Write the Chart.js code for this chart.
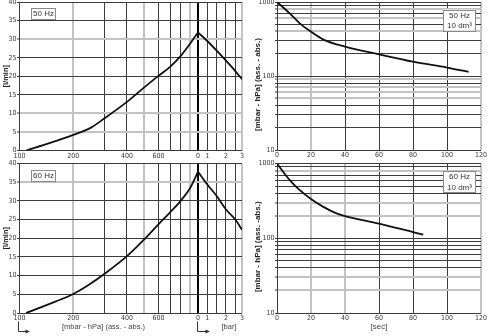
<!DOCTYPE html>
<html>
<head>
<meta charset="utf-8">
<script src="https://cdn.jsdelivr.net/npm/chart.js@4.4.1/dist/chart.umd.min.js"></script>
<style>
  html, body { margin: 0; padding: 0; background: #fff; }
  #sheet { position: relative; width: 487px; height: 336px; overflow: hidden; background: #fff; }
  #sheet canvas { position: absolute; }
</style>
</head>
<body>
<div id="sheet">
  <canvas id="flow50" width="245" height="160" style="left:0;top:0"></canvas>
  <canvas id="flow60" width="245" height="176" style="left:0;top:160px"></canvas>
  <canvas id="pump50" width="242" height="160" style="left:245px;top:0"></canvas>
  <canvas id="pump60" width="242" height="176" style="left:245px;top:160px"></canvas>
</div>
<script>
// ---- Pumping speed vs. pressure (vacuum side in mbar abs., pressure side in bar) ----
const vacuumMbar50 = [109, 150, 200, 250, 300, 400, 500, 600, 700, 800, 900, 1000];
const vacuumFlow50 = [0, 2.1, 4.2, 6.1, 8.7, 13.1, 17.0, 20.1, 22.6, 25.5, 28.7, 31.8];
const gaugeBar50   = [0, 1, 1.5, 2, 2.5, 3];
const gaugeFlow50  = [31.8, 29.5, 26.9, 24.2, 21.4, 19.2];

const vacuumMbar60 = [109, 160, 200, 240, 300, 400, 500, 600, 700, 800, 900, 1000];
const vacuumFlow60 = [0, 3.1, 5.1, 7.3, 10.5, 15.2, 19.7, 23.7, 27.0, 30.0, 33.3, 37.8];
const gaugeBar60   = [0, 1, 1.5, 2, 2.5, 3];
const gaugeFlow60  = [37.8, 34.4, 31.3, 27.7, 25.0, 22.3];

// ---- Evacuation of a 10 dm3 vessel: pressure (mbar) vs. time (s) ----
const pumpTime50  = [0, 7.5, 13.4, 20, 27, 40, 60, 80, 100, 112.7];
const pumpPress50 = [1000, 700, 515, 397, 313, 249, 196, 156, 130, 114];
const pumpTime60  = [0, 7.5, 13.4, 20, 27, 35, 40, 60, 80, 86];
const pumpPress60 = [1000, 600, 440, 335, 265, 215, 198, 157, 121, 112];

// ---- Axis ticks and labels ----
const flowTicks       = [0, 5, 10, 15, 20, 25, 30, 35, 40];
const vacuumGridMbar  = [100, 200, 300, 400, 500, 600, 700, 800, 900, 1000];
const vacuumLabelMbar = [100, 200, 400, 600];
const gaugeGridBar    = [0, 1, 1.5, 2, 2.5, 3];
const gaugeLabelBar   = [0, 1, 2, 3];
const timeTicks       = [0, 20, 40, 60, 80, 100, 120];
const pressureGrid    = [10, 20, 30, 40, 50, 60, 70, 80, 90, 100, 200, 300, 400, 500, 600, 700, 800, 900, 1000];
const pressureLabels  = [10, 100, 1000];

// ---- Styling ----
const DARK = '#3c3c3c';
const LIGHT = '#c3c3c3';
const TICK_COLOR = '#3a3a3a';
const TICK_FONT = { family: '"Liberation Sans Narrow", "DejaVu Sans Condensed", "Liberation Sans", sans-serif', size: 7 };
const TEXT_FAMILY = '"Liberation Sans", Arial, sans-serif';

// Gauge-pressure scale: the bar range is drawn with its own uneven grid spacing
const GAUGE_KNOTS = [0, 1, 1.5, 2, 2.5, 3];
const GAUGE_STOPS = [0, 0.211, 0.425, 0.636, 0.848, 1];
function interp(v, xs, ys) {
  if (v <= xs[0]) return ys[0];
  for (let i = 1; i < xs.length; i++) {
    if (v <= xs[i]) {
      const t = (v - xs[i - 1]) / (xs[i] - xs[i - 1]);
      return ys[i - 1] + t * (ys[i] - ys[i - 1]);
    }
  }
  return ys[ys.length - 1];
}
class GaugeScale extends Chart.LinearScale {
  static id = 'gauge';
  static defaults = {};
  getPixelForValue(value) {
    if (value === null || value === undefined || isNaN(value)) return NaN;
    return this.getPixelForDecimal(interp(value, GAUGE_KNOTS, GAUGE_STOPS));
  }
  getValueForPixel(pixel) {
    return interp(this.getDecimalForPixel(pixel), GAUGE_STOPS, GAUGE_KNOTS);
  }
}
Chart.register(GaugeScale);

const has = (list, v) => list.some(x => Math.abs(x - v) < 1e-9);
const fixW = w => s => { s.width = w; s.paddingTop = s.paddingBottom = s.paddingLeft = s.paddingRight = 0; };
const fixH = h => s => { s.height = h; s.paddingTop = s.paddingBottom = s.paddingLeft = s.paddingRight = 0; };
const toPoints = (xs, ys) => xs.map((x, i) => ({ x, y: ys[i] }));

function gridOf(lights, special) {
  return {
    drawTicks: false,
    color: c => {
      const v = c.tick.value;
      if (special && has(special, v)) return '#000';
      return has(lights, v) ? LIGHT : DARK;
    },
    lineWidth: c => {
      const v = c.tick.value;
      if (special && has(special, v)) return 2;
      return has(lights, v) ? 2 : 1;
    }
  };
}

const curve = {
  borderColor: '#111',
  borderWidth: 1.8,
  pointRadius: 0,
  fill: false,
  cubicInterpolationMode: 'monotone'
};

function drawTag(ctx, x, y, w, h, lines) {
  ctx.save();
  ctx.fillStyle = '#fff';
  ctx.fillRect(x, y, w, h);
  ctx.strokeStyle = '#8a8a8a';
  ctx.lineWidth = 1;
  ctx.strokeRect(Math.round(x) + 0.5, Math.round(y) + 0.5, Math.round(w), Math.round(h));
  ctx.fillStyle = '#333';
  ctx.font = '8px ' + TEXT_FAMILY;
  ctx.textAlign = 'center';
  ctx.textBaseline = 'middle';
  const step = h / lines.length;
  lines.forEach((t, i) => ctx.fillText(t, x + w / 2 + 0.5, y + step * (i + 0.5) + 1));
  ctx.restore();
}

function drawElbowArrow(ctx, x, yTop, yBot, len) {
  ctx.save();
  ctx.strokeStyle = '#333';
  ctx.fillStyle = '#333';
  ctx.lineWidth = 1;
  ctx.beginPath();
  ctx.moveTo(x + 0.5, yTop);
  ctx.lineTo(x + 0.5, yBot + 0.5);
  ctx.lineTo(x + len - 3, yBot + 0.5);
  ctx.stroke();
  ctx.beginPath();
  ctx.moveTo(x + len, yBot + 0.5);
  ctx.lineTo(x + len - 4.5, yBot - 1.5);
  ctx.lineTo(x + len - 4.5, yBot + 2.5);
  ctx.closePath();
  ctx.fill();
  ctx.restore();
}

function flowChart(id, cfg) {
  const notes = {
    id: 'flowNotes',
    afterDraw(chart) {
      const { ctx, chartArea: a } = chart;
      drawTag(ctx, a.left + 11.5, a.top + 6, 24, 10.5, [cfg.tag]);
      if (cfg.bottomLegend) {
        const xv = chart.scales.xv, xp = chart.scales.xp;
        ctx.save();
        ctx.fillStyle = '#444';
        ctx.font = '7.5px ' + TEXT_FAMILY;
        ctx.textAlign = 'center';
        ctx.textBaseline = 'middle';
        ctx.fillText('[mbar - hPa] (ass. - abs.)', a.left + 84, a.bottom + 14);
        ctx.fillText('[bar]', xp.getPixelForValue(0) + 31, a.bottom + 14);
        ctx.restore();
        drawElbowArrow(ctx, xv.getPixelForValue(100) - 1.5, a.bottom + 8.5, a.bottom + 18, 12);
        drawElbowArrow(ctx, xp.getPixelForValue(0) - 1, a.bottom + 8.5, a.bottom + 18, 13);
      }
    }
  };
  return new Chart(document.getElementById(id), {
    type: 'line',
    data: {
      datasets: [
        { ...curve, data: toPoints(cfg.vacX, cfg.vacY), xAxisID: 'xv', yAxisID: 'y' },
        { ...curve, data: toPoints(cfg.barX, cfg.barY), xAxisID: 'xp', yAxisID: 'y' }
      ]
    },
    options: {
      responsive: false,
      animation: false,
      events: [],
      layout: { padding: { top: cfg.padTop, right: 3, left: 0, bottom: 0 } },
      plugins: { legend: { display: false }, tooltip: { enabled: false } },
      scales: {
        xv: {
          type: 'logarithmic', position: 'bottom', stack: 'pressure', stackWeight: 178.5, weight: 0,
          min: 100, max: 1000,
          afterBuildTicks: s => { s.ticks = vacuumGridMbar.map(v => ({ value: v })); },
          afterFit: fixH(cfg.xHeight),
          ticks: {
            autoSkip: false, maxRotation: 0, minRotation: 0, padding: 1,
            font: TICK_FONT, color: TICK_COLOR,
            callback: v => has(vacuumLabelMbar, v) ? String(v) : ''
          },
          grid: gridOf(cfg.vacLights),
          border: { display: false }
        },
        xp: {
          type: 'gauge', position: 'bottom', stack: 'pressure', stackWeight: 44, weight: 0,
          min: 0, max: 3,
          afterBuildTicks: s => { s.ticks = gaugeGridBar.map(v => ({ value: v })); },
          afterFit: fixH(cfg.xHeight),
          ticks: {
            autoSkip: false, maxRotation: 0, minRotation: 0, padding: 1,
            font: TICK_FONT, color: TICK_COLOR,
            callback: v => has(gaugeLabelBar, v) ? String(v) : ''
          },
          grid: gridOf([3], [0]),
          border: { display: false }
        },
        y: {
          type: 'linear', position: 'left', min: 0, max: 40,
          afterBuildTicks: s => { s.ticks = flowTicks.map(v => ({ value: v })); },
          afterFit: fixW(19.5),
          ticks: { autoSkip: false, padding: 0.5, font: TICK_FONT, color: TICK_COLOR },
          grid: { ...gridOf(cfg.flowLights), drawTicks: true, tickLength: 2.5, tickColor: DARK, tickWidth: 1 },
          border: { display: true, color: DARK, width: 1 },
          title: {
            display: true, text: '[l/min]', color: '#222',
            font: { family: TEXT_FAMILY, size: 7.5, weight: 'bold' },
            padding: { top: 1.5, bottom: 0 }
          }
        }
      }
    },
    plugins: [notes]
  });
}

function pumpChart(id, cfg) {
  const notes = {
    id: 'pumpNotes',
    afterDraw(chart) {
      const { ctx, chartArea: a } = chart;
      drawTag(ctx, a.right - 38, a.top + 7.5, 32, 21, cfg.tag);
      ctx.save();
      ctx.translate(12.5, (a.top + a.bottom) / 2 + 8.5);
      ctx.rotate(-Math.PI / 2);
      ctx.fillStyle = '#222';
      ctx.font = 'bold 8px ' + TEXT_FAMILY;
      ctx.textAlign = 'center';
      ctx.textBaseline = 'middle';
      ctx.fillText(cfg.yTitle, 0, 0);
      ctx.restore();
    }
  };
  return new Chart(document.getElementById(id), {
    type: 'line',
    data: {
      datasets: [{ ...curve, data: toPoints(cfg.time, cfg.press) }]
    },
    options: {
      responsive: false,
      animation: false,
      events: [],
      layout: { padding: { top: cfg.padTop, right: 6, left: 0, bottom: 0 } },
      plugins: { legend: { display: false }, tooltip: { enabled: false } },
      scales: {
        x: {
          type: 'linear', position: 'bottom', min: 0, max: 120,
          afterBuildTicks: s => { s.ticks = timeTicks.map(v => ({ value: v })); },
          afterFit: fixH(cfg.xHeight),
          ticks: { autoSkip: false, maxRotation: 0, minRotation: 0, padding: 1, font: TICK_FONT, color: TICK_COLOR },
          grid: gridOf(cfg.timeLights),
          border: { display: false },
          title: {
            display: !!cfg.xTitle, text: cfg.xTitle || '', color: '#444',
            font: { family: TEXT_FAMILY, size: 8 },
            padding: { top: 0, bottom: 4.2 }
          }
        },
        y: {
          type: 'logarithmic', position: 'left', min: 10, max: 1000,
          afterBuildTicks: s => { s.ticks = pressureGrid.map(v => ({ value: v })); },
          afterFit: fixW(32),
          ticks: {
            autoSkip: false, padding: 0.5, font: TICK_FONT, color: TICK_COLOR,
            callback: v => has(pressureLabels, v) ? String(v) : ''
          },
          grid: { ...gridOf(cfg.pressLights), drawTicks: true, tickLength: 2, tickColor: DARK, tickWidth: 1 },
          border: { display: true, color: DARK, width: 1 }
        }
      }
    },
    plugins: [notes]
  });
}

flowChart('flow50', {
  vacX: vacuumMbar50, vacY: vacuumFlow50, barX: gaugeBar50, barY: gaugeFlow50,
  tag: '50 Hz', padTop: 2, xHeight: 9.5,
  vacLights: [200, 500, 900], flowLights: [5, 10, 30]
});
flowChart('flow60', {
  vacX: vacuumMbar60, vacY: vacuumFlow60, barX: gaugeBar60, barY: gaugeFlow60,
  tag: '60 Hz', padTop: 3.5, xHeight: 23, bottomLegend: true,
  vacLights: [200, 500, 900], flowLights: [35]
});
pumpChart('pump50', {
  time: pumpTime50, press: pumpPress50,
  tag: ['50 Hz', '10 dm\u00B3'], yTitle: '[mbar - hPa] (ass. - abs.)',
  padTop: 2, xHeight: 10,
  timeLights: [20, 120], pressLights: [50, 60, 70, 90, 400, 600, 800]
});
pumpChart('pump60', {
  time: pumpTime60, press: pumpPress60,
  tag: ['60 Hz', '10 dm\u00B3'], yTitle: '[mbar - hPa] (ass. -abs.)',
  padTop: 3.5, xHeight: 23, xTitle: '[sec]',
  timeLights: [20, 40, 120], pressLights: [20, 30, 200, 300, 800]
});
</script>
</body>
</html>
